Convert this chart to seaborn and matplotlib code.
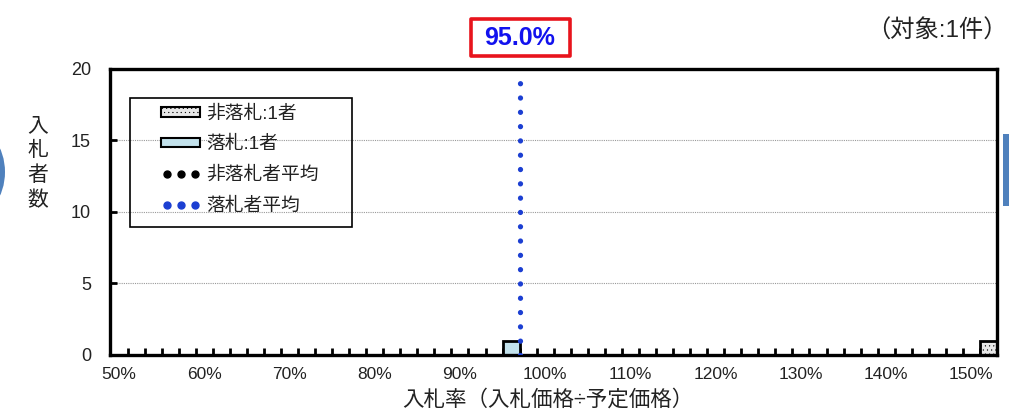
import numpy as np
import pandas as pd
import seaborn as sns
import matplotlib.pyplot as plt
from matplotlib.patches import Patch, Rectangle, Ellipse
from matplotlib.lines import Line2D
from matplotlib.ticker import FixedLocator
import matplotlib.transforms as mtransforms

# 入札率データ（％）
nonwin_rates = [152.0]        # 非落札者
win_rates = [95.0]            # 落札者
win_avg_label = "95.0%"       # 落札者平均（表示値）
win_avg_pos = 97.0            # 平均線の位置
nonwin_avg_pos = 153.0

x_ticks = [50, 60, 70, 80, 90, 100, 110, 120, 130, 140, 150]
x_tick_labels = ["50%", "60%", "70%", "80%", "90%", "100%", "110%", "120%", "130%", "140%", "150%"]
y_ticks = [0, 5, 10, 15, 20]
legend_labels = ["非落札:1者", "落札:1者", "非落札者平均", "落札者平均"]

NONWIN_COLOR = "#e8e8e8"
WIN_COLOR = "#c3e2ec"
AVG_BLUE = "#1c3fd2"
DECO_BLUE = "#4f81bd"
TEXT_COLOR = "#222222"

sns.set_theme(style="white")
plt.rcParams['font.family'] = ['Liberation Sans', 'Noto Sans CJK JP', 'DejaVu Sans']
plt.rcParams['hatch.linewidth'] = 0.3

fig = plt.figure(figsize=(10.09, 4.11), dpi=100)
ax = fig.add_axes([0.1095, 0.1363, 0.8786, 0.6959])

df_nonwin = pd.DataFrame({"rate": nonwin_rates})
df_win = pd.DataFrame({"rate": win_rates})

sns.histplot(data=df_nonwin, x="rate", binwidth=2, binrange=(49, 153),
             color=NONWIN_COLOR, edgecolor="black", linewidth=2, alpha=1,
             hatch="....", ax=ax, zorder=2)
sns.histplot(data=df_win, x="rate", binwidth=2, binrange=(49, 153),
             color=WIN_COLOR, edgecolor="black", linewidth=2, alpha=1,
             ax=ax, zorder=2)

# 平均線（非落札者平均は右枠と重なる）
ax.axvline(nonwin_avg_pos, color="black", linewidth=2.2,
           linestyle=(0, (0.01, 3)), dash_capstyle="round", zorder=1)
ax.axvline(win_avg_pos, color=AVG_BLUE, linewidth=3.8,
           linestyle=(0, (0.01, 2.7)), dash_capstyle="round", zorder=3)

ax.set_xlim(49, 153)
ax.set_ylim(0, 20)
ax.set_xticks(x_ticks)
ax.set_xticklabels(x_tick_labels)
ax.xaxis.set_minor_locator(FixedLocator(np.arange(51, 153, 2)))
ax.set_yticks(y_ticks)
ax.tick_params(axis="x", which="major", length=0, labelsize=12.5, pad=9, colors=TEXT_COLOR)
ax.tick_params(axis="x", which="minor", direction="in", length=5, width=2, color="black", bottom=True)
ax.tick_params(axis="y", direction="in", length=5, width=2, color="black",
               labelsize=13, pad=14, left=True, labelcolor=TEXT_COLOR)
ax.set_xlabel("")
ax.set_ylabel("")

for y in [5, 10, 15]:
    ax.axhline(y, color="#9a9a9a", linewidth=0.8, linestyle=(0, (1, 1)), zorder=0)

for s in ax.spines.values():
    s.set_visible(True)
    s.set_color("black")
    s.set_linewidth(2.4)
    s.set_zorder(2.5)

# 凡例
handles = [
    Patch(facecolor=NONWIN_COLOR, edgecolor="black", hatch="....", linewidth=1.5),
    Patch(facecolor=WIN_COLOR, edgecolor="black", linewidth=1.5),
    Line2D([], [], linestyle="none", marker="o", markersize=5, color="black"),
    Line2D([], [], linestyle="none", marker="o", markersize=5, color=AVG_BLUE),
]
leg = ax.legend(handles, legend_labels, loc="upper left",
                bbox_to_anchor=((161 - 110.5) / 886.5, (355 - 105) / 286),
                borderaxespad=0, borderpad=0, frameon=False, fontsize=13.5,
                handlelength=2.1, handleheight=0.42, handletextpad=0.3,
                labelspacing=0.72, numpoints=3, markerscale=1)
for t in leg.get_texts():
    t.set_color(TEXT_COLOR)
ax.add_patch(Rectangle(((130 - 110.5) / 886.5, (355 - 227) / 286),
                       222 / 886.5, 129 / 286, transform=ax.transAxes,
                       fill=False, edgecolor="black", linewidth=1.2, zorder=4))

# 落札者平均ラベル
blend = mtransforms.blended_transform_factory(ax.transData, ax.transAxes)
ax.add_patch(Rectangle((win_avg_pos - 5.75, 1.045), 11.6, 0.128, transform=blend,
                       fill=False, edgecolor="#e8141c", linewidth=2.6, clip_on=False,
                       joinstyle="round"))
ax.text(win_avg_pos, 1.108, win_avg_label, transform=blend, ha="center", va="center",
        color="#1212ee", fontsize=18, fontweight="bold", clip_on=False)

# 軸ラベル・件数
fig.text(38 / 1009, 1 - 163 / 411, "入\n札\n者\n数", ha="center", va="center",
         fontsize=15, linespacing=1.35, color=TEXT_COLOR)
fig.text(548 / 1009, 1 - 400 / 411, "入札率（入札価格÷予定価格）", ha="center", va="center",
         fontsize=15.5, color=TEXT_COLOR)
fig.text(0.999, 1 - 31 / 411, "（対象:1件）", ha="right", va="center",
         fontsize=17.5, color=TEXT_COLOR)

# スライドの装飾
fig.patches.append(Ellipse((-30 / 1009, 1 - 172 / 411), 70 / 1009, 92 / 411,
                           transform=fig.transFigure, facecolor=DECO_BLUE, edgecolor="none"))
fig.patches.append(Rectangle((1003 / 1009, 1 - 206 / 411), 10 / 1009, 72 / 411,
                             transform=fig.transFigure, facecolor=DECO_BLUE, edgecolor="none"))

fig.savefig("out.png", dpi=100)
